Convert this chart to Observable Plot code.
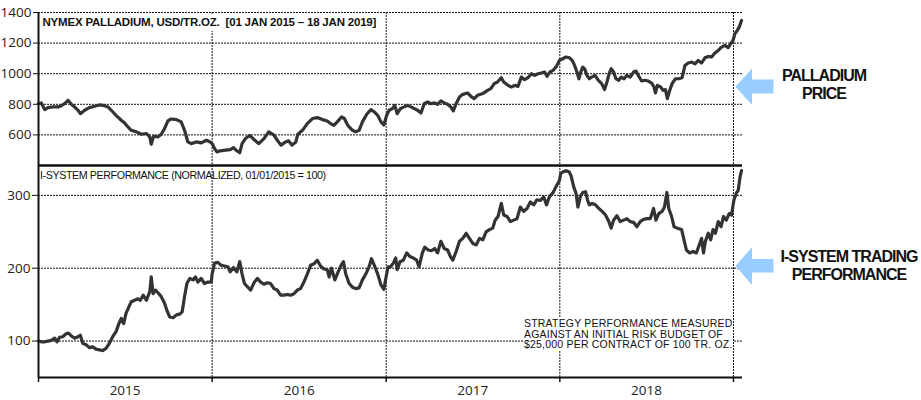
<!DOCTYPE html>
<html><head><meta charset="utf-8">
<script src="https://cdn.jsdelivr.net/npm/d3@7"></script>
<script src="https://cdn.jsdelivr.net/npm/@observablehq/plot@0.6"></script>
<style>
body{margin:0;background:#fff;}
#wrap{position:relative;width:921px;height:400px;overflow:hidden;font-family:"Liberation Sans",Arial,sans-serif;color:#111;}
#wrap svg.plot{position:absolute;left:0;top:0;}
.lab{position:absolute;white-space:nowrap;}
#title{left:40px;top:13.5px;font-size:11.5px;line-height:11.5px;font-weight:bold;letter-spacing:-0.2px;background:#fff;padding:3px 2px 3px 2.5px;}
#sub{left:40px;top:170px;font-size:10.7px;line-height:10.7px;letter-spacing:-0.4px;}
#note{left:523px;top:318px;font-size:10.5px;line-height:10.5px;letter-spacing:0.2px;background:#fff;padding-left:1px;}
.ann{font-size:16px;line-height:18.2px;font-weight:bold;letter-spacing:-1px;text-align:center;}
#ann1{left:764px;top:67px;width:120px;}
#ann2{left:778px;top:247.5px;width:142px;}
#arrows{position:absolute;left:0;top:0;}
</style></head><body><div id="wrap"></div>
<script>
const priceTicks = [600, 800, 1000, 1200, 1400];
const perfTicks = [100, 200, 300];
const yearBounds = ["2015-01-01", "2016-01-01", "2017-01-01", "2018-01-01", "2019-01-01"];
const yearLabels = ["2015", "2016", "2017", "2018"];

// NYMEX palladium, USD/tr.oz.
const palladium = [
["2015-01-01",804],["2015-01-07",809],["2015-01-14",765],["2015-01-21",778],["2015-01-31",783],["2015-02-11",783],["2015-02-18",791],["2015-02-25",804],["2015-03-04",826],["2015-03-11",800],["2015-03-18",783],["2015-03-25",761],["2015-03-30",739],["2015-04-08",761],["2015-04-18",778],["2015-04-29",787],["2015-05-09",796],["2015-05-20",791],["2015-05-27",783],["2015-06-03",761],["2015-06-13",728],["2015-06-24",696],["2015-07-01",678],["2015-07-08",652],["2015-07-15",630],["2015-07-26",620],["2015-08-05",604],["2015-08-16",609],["2015-08-23",587],["2015-08-26",539],["2015-08-31",591],["2015-09-09",587],["2015-09-16",604],["2015-09-23",641],["2015-09-30",691],["2015-10-07",704],["2015-10-18",700],["2015-10-28",685],["2015-11-04",630],["2015-11-11",554],["2015-11-18",543],["2015-11-29",554],["2015-12-09",548],["2015-12-20",565],["2015-12-28",554],
["2016-01-02",540],["2016-01-06",511],["2016-01-11",489],["2016-01-18",496],["2016-01-29",500],["2016-02-08",504],["2016-02-15",517],["2016-02-22",496],["2016-02-28",483],["2016-03-04",543],["2016-03-11",576],["2016-03-20",596],["2016-03-29",570],["2016-04-08",543],["2016-04-19",576],["2016-04-29",620],["2016-05-10",598],["2016-05-17",565],["2016-05-25",533],["2016-06-03",554],["2016-06-10",561],["2016-06-17",533],["2016-06-25",554],["2016-06-29",604],["2016-07-09",630],["2016-07-19",674],["2016-07-30",707],["2016-08-09",713],["2016-08-20",700],["2016-08-30",691],["2016-09-06",674],["2016-09-13",663],["2016-09-20",685],["2016-09-29",717],["2016-10-05",707],["2016-10-12",663],["2016-10-22",630],["2016-10-29",620],["2016-11-05",630],["2016-11-12",685],["2016-11-21",735],["2016-11-30",765],["2016-12-07",750],["2016-12-14",728],["2016-12-21",685],["2016-12-27",665],
["2017-01-02",728],["2017-01-07",761],["2017-01-14",772],["2017-01-19",793],["2017-01-24",739],["2017-01-31",772],["2017-02-08",783],["2017-02-15",793],["2017-02-22",783],["2017-03-01",772],["2017-03-08",761],["2017-03-15",743],["2017-03-22",804],["2017-03-29",815],["2017-04-05",804],["2017-04-12",809],["2017-04-19",800],["2017-04-26",822],["2017-05-03",809],["2017-05-10",800],["2017-05-17",783],["2017-05-22",757],["2017-05-28",804],["2017-06-04",848],["2017-06-11",865],["2017-06-21",874],["2017-06-28",852],["2017-07-05",837],["2017-07-12",859],["2017-07-23",870],["2017-08-02",891],["2017-08-09",902],["2017-08-16",935],["2017-08-23",946],["2017-08-31",974],["2017-09-05",946],["2017-09-14",924],["2017-09-21",913],["2017-09-29",924],["2017-10-05",917],["2017-10-12",978],["2017-10-19",961],["2017-10-26",974],["2017-11-02",1000],["2017-11-09",989],["2017-11-16",1000],["2017-11-23",1004],["2017-11-30",1011],["2017-12-05",983],["2017-12-11",1011],["2017-12-18",1022],["2017-12-25",1048],["2017-12-31",1087],
["2018-01-07",1098],["2018-01-14",1109],["2018-01-21",1104],["2018-01-27",1087],["2018-02-01",1054],["2018-02-06",1011],["2018-02-10",967],["2018-02-14",1011],["2018-02-18",1043],["2018-02-22",1033],["2018-02-27",989],["2018-03-04",967],["2018-03-09",978],["2018-03-16",989],["2018-03-23",957],["2018-03-30",935],["2018-04-05",896],["2018-04-10",946],["2018-04-15",1004],["2018-04-19",1033],["2018-04-24",1011],["2018-04-29",967],["2018-05-05",957],["2018-05-10",978],["2018-05-16",967],["2018-05-22",989],["2018-05-29",978],["2018-06-05",1011],["2018-06-10",1017],["2018-06-16",983],["2018-06-22",952],["2018-06-29",957],["2018-07-06",952],["2018-07-13",939],["2018-07-18",913],["2018-07-21",874],["2018-07-25",924],["2018-08-01",913],["2018-08-06",891],["2018-08-11",896],["2018-08-15",837],["2018-08-20",891],["2018-08-25",935],["2018-09-01",967],["2018-09-08",967],["2018-09-15",974],["2018-09-21",1054],["2018-09-28",1070],["2018-10-05",1076],["2018-10-12",1065],["2018-10-19",1087],["2018-10-26",1070],["2018-11-02",1104],["2018-11-09",1113],["2018-11-16",1109],["2018-11-23",1135],["2018-11-30",1152],["2018-12-07",1174],["2018-12-14",1185],["2018-12-21",1170],["2018-12-26",1196],["2018-12-31",1217],["2019-01-04",1261],["2019-01-09",1283],["2019-01-13",1304],["2019-01-18",1348]
];

// I-System performance, normalized 01/01/2015 = 100
const isystem = [
["2015-01-01",100],["2015-01-07",99],["2015-01-14",99],["2015-01-21",100],["2015-01-28",101],["2015-02-04",104],["2015-02-09",99],["2015-02-14",105],["2015-02-21",106],["2015-02-28",110],["2015-03-05",111],["2015-03-11",107],["2015-03-18",104],["2015-03-25",106],["2015-03-30",108],["2015-04-04",97],["2015-04-11",95],["2015-04-18",91],["2015-04-25",92],["2015-05-02",89],["2015-05-09",88],["2015-05-16",87],["2015-05-23",90],["2015-05-30",97],["2015-06-06",106],["2015-06-13",113],["2015-06-19",124],["2015-06-24",131],["2015-06-29",124],["2015-07-04",138],["2015-07-10",147],["2015-07-15",154],["2015-07-22",156],["2015-07-29",158],["2015-08-03",156],["2015-08-09",163],["2015-08-16",156],["2015-08-23",168],["2015-08-26",188],["2015-08-30",165],["2015-09-04",170],["2015-09-11",165],["2015-09-16",161],["2015-09-23",152],["2015-09-28",142],["2015-10-04",133],["2015-10-11",132],["2015-10-18",136],["2015-10-25",137],["2015-10-30",140],["2015-11-04",161],["2015-11-09",179],["2015-11-15",186],["2015-11-22",184],["2015-11-27",188],["2015-12-02",181],["2015-12-09",186],["2015-12-16",179],["2015-12-23",181],["2015-12-30",181],
["2016-01-01",192],["2016-01-06",207],["2016-01-13",208],["2016-01-20",204],["2016-01-27",203],["2016-02-03",202],["2016-02-08",195],["2016-02-15",201],["2016-02-22",195],["2016-02-28",209],["2016-03-04",192],["2016-03-09",179],["2016-03-16",174],["2016-03-22",170],["2016-03-29",180],["2016-04-05",186],["2016-04-12",181],["2016-04-19",178],["2016-04-26",180],["2016-05-03",179],["2016-05-10",172],["2016-05-17",170],["2016-05-24",163],["2016-05-31",163],["2016-06-07",164],["2016-06-14",163],["2016-06-21",165],["2016-06-28",170],["2016-07-05",172],["2016-07-12",181],["2016-07-19",192],["2016-07-26",204],["2016-08-02",206],["2016-08-09",211],["2016-08-16",203],["2016-08-23",199],["2016-08-30",198],["2016-09-03",188],["2016-09-08",200],["2016-09-15",184],["2016-09-22",195],["2016-09-28",204],["2016-10-03",209],["2016-10-08",192],["2016-10-15",179],["2016-10-22",174],["2016-10-29",172],["2016-11-05",173],["2016-11-12",184],["2016-11-19",192],["2016-11-26",202],["2016-12-01",213],["2016-12-07",204],["2016-12-14",192],["2016-12-21",177],["2016-12-27",171],
["2017-01-01",189],["2017-01-05",202],["2017-01-10",202],["2017-01-16",207],["2017-01-21",214],["2017-01-24",198],["2017-01-30",209],["2017-02-06",211],["2017-02-13",221],["2017-02-20",216],["2017-02-27",214],["2017-03-06",211],["2017-03-11",202],["2017-03-18",221],["2017-03-23",229],["2017-03-30",225],["2017-04-06",224],["2017-04-13",227],["2017-04-19",221],["2017-04-26",237],["2017-05-03",227],["2017-05-10",225],["2017-05-16",216],["2017-05-21",211],["2017-05-28",223],["2017-06-04",237],["2017-06-11",241],["2017-06-18",248],["2017-06-25",241],["2017-07-02",234],["2017-07-09",232],["2017-07-16",241],["2017-07-23",239],["2017-07-30",250],["2017-08-06",253],["2017-08-13",255],["2017-08-18",266],["2017-08-24",271],["2017-08-31",289],["2017-09-05",273],["2017-09-12",271],["2017-09-19",264],["2017-09-26",266],["2017-10-03",268],["2017-10-10",284],["2017-10-17",278],["2017-10-24",282],["2017-10-31",291],["2017-11-07",287],["2017-11-14",294],["2017-11-21",293],["2017-11-28",298],["2017-12-04",287],["2017-12-10",298],["2017-12-17",303],["2017-12-24",312],["2017-12-31",320],
["2018-01-03",330],["2018-01-07",332],["2018-01-14",334],["2018-01-21",332],["2018-01-25",326],["2018-01-30",312],["2018-02-04",303],["2018-02-08",284],["2018-02-13",298],["2018-02-18",304],["2018-02-24",305],["2018-02-28",294],["2018-03-04",287],["2018-03-10",289],["2018-03-17",287],["2018-03-24",282],["2018-03-31",278],["2018-04-07",273],["2018-04-14",264],["2018-04-19",255],["2018-04-24",266],["2018-05-01",272],["2018-05-08",264],["2018-05-15",266],["2018-05-22",268],["2018-05-29",264],["2018-06-05",263],["2018-06-12",257],["2018-06-19",264],["2018-06-26",267],["2018-07-03",268],["2018-07-10",268],["2018-07-17",282],["2018-07-22",266],["2018-07-28",275],["2018-08-04",278],["2018-08-09",284],["2018-08-14",304],["2018-08-18",282],["2018-08-24",271],["2018-08-29",257],["2018-09-05",255],["2018-09-14",253],["2018-09-19",239],["2018-09-24",225],["2018-10-01",221],["2018-10-08",223],["2018-10-15",221],["2018-10-20",230],["2018-10-26",241],["2018-10-30",221],["2018-11-03",237],["2018-11-09",248],["2018-11-14",239],["2018-11-19",253],["2018-11-24",248],["2018-11-30",264],["2018-12-06",257],["2018-12-11",271],["2018-12-17",266],["2018-12-23",275],["2018-12-28",273],["2019-01-02",294],["2019-01-07",303],["2019-01-11",307],["2019-01-15",326],["2019-01-18",334]
];

const parse = d3.utcParse("%Y-%m-%d");
const priceData = palladium.map(([d, v]) => ({date: parse(d), value: v}));
const perfData = isystem.map(([d, v]) => ({date: parse(d), value: v}));
const bounds = yearBounds.map(parse);
const mids = yearLabels.map(y => parse(`${y}-07-02`));
const xDomain = [parse("2015-01-01"), parse("2019-01-20")];

const W = 921, H = 400;
const dotted = {stroke: "#111", strokeOpacity: 1, strokeWidth: 1, strokeDasharray: "2,1"};
const tickFont = {fontSize: 13.5, fontFamily: "Open Sans, sans-serif", fill: "#222", tickFormat: d => String(d)};
const lineStyle = {x: "date", y: "value", stroke: "#333", strokeWidth: 3.2, strokeLinejoin: "round", strokeLinecap: "round"};

const topPlot = Plot.plot({
  width: W, height: H,
  marginLeft: 38, marginRight: 179, marginTop: 12, marginBottom: 235,
  x: {type: "utc", domain: xDomain, axis: null},
  y: {domain: [400, 1400], axis: null},
  style: {background: "transparent", overflow: "visible"},
  marks: [
    Plot.gridY(priceTicks, dotted),
    Plot.gridX(bounds.slice(1), dotted),
    Plot.axisY(priceTicks, {tickSize: 5, tickPadding: 2, label: null, ...tickFont, stroke: "#111"}),
    Plot.line(priceData, lineStyle),
    Plot.ruleX([bounds[0]], {stroke: "#111", strokeWidth: 2}),
    Plot.ruleY([400], {stroke: "#111", strokeWidth: 2})
  ]
});

const bottomPlot = Plot.plot({
  width: W, height: H,
  marginLeft: 38, marginRight: 179, marginTop: 165, marginBottom: 23,
  x: {type: "utc", domain: xDomain},
  y: {domain: [50, 341], axis: null},
  style: {background: "transparent", overflow: "visible"},
  marks: [
    Plot.gridY(perfTicks, dotted),
    Plot.gridX(bounds.slice(1), dotted),
    Plot.axisY(perfTicks, {tickSize: 6, tickPadding: 2, label: null, ...tickFont, stroke: "#111"}),
    Plot.axisX(bounds, {tickSize: 5, tickFormat: () => "", label: null, stroke: "#111", strokeWidth: 1.5}),
    Plot.axisX(mids, {tickSize: 0, tickPadding: 8, tickFormat: d => String(d.getUTCFullYear()), label: null, fontSize: 13.5, fontFamily: "Open Sans, sans-serif", fill: "#222"}),
    Plot.line(perfData, lineStyle),
    Plot.ruleX([bounds[0]], {stroke: "#111", strokeWidth: 2}),
    Plot.ruleY([50, 341], {stroke: "#111", strokeWidth: 2})
  ]
});

const wrap = document.getElementById("wrap");
topPlot.classList.add("plot");
bottomPlot.classList.add("plot");
wrap.append(topPlot, bottomPlot);

wrap.insertAdjacentHTML("beforeend", `
<svg id="arrows" width="921" height="400" viewBox="0 0 921 400">
  <polygon fill="#99CCFF" points="735.5,86.7 752,68.5 752,79.5 773.5,79.5 773.5,93.5 752,93.5 752,105"/>
  <polygon fill="#99CCFF" points="735.5,266 752,247 752,259 773.5,259 773.5,272.5 752,272.5 752,285"/>
</svg>
<div class="lab" id="title">NYMEX PALLADIUM, USD/TR.OZ.&nbsp; [01 JAN 2015 – 18 JAN 2019]</div>
<div class="lab" id="sub">I-SYSTEM PERFORMANCE (NORMALIZED, 01/01/2015 = 100)</div>
<div class="lab" id="note">STRATEGY PERFORMANCE MEASURED<br>AGAINST AN INITIAL RISK BUDGET OF<br>$25,000 PER CONTRACT OF 100 TR. OZ.</div>
<div class="lab ann" id="ann1">PALLADIUM<br>PRICE</div>
<div class="lab ann" id="ann2">I-SYSTEM TRADING<br>PERFORMANCE</div>
`);
</script>
</body></html>
